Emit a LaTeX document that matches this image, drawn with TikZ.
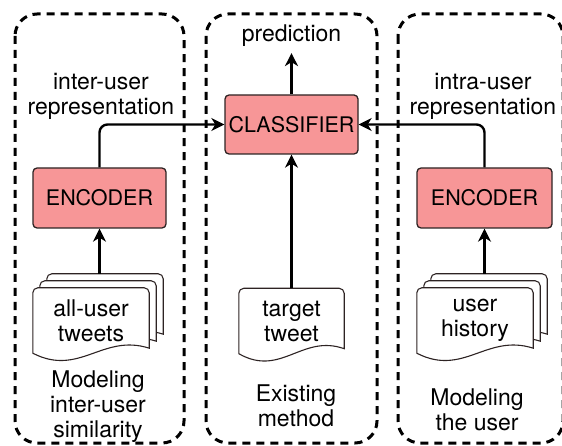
\documentclass[tikz,border=0pt]{standalone}
\usepackage{fontspec}
\setmainfont{TeX Gyre Heros}
\usetikzlibrary{arrows.meta,calc,backgrounds}
\definecolor{boxpink}{RGB}{247,150,151}
\definecolor{boxline}{RGB}{45,35,35}

\tikzset{
	frame/.style={line width=3pt, dash pattern=on 8pt off 6pt, rounded corners=22pt},
	box/.style={draw=boxline, line width=1.3pt, fill=boxpink, rounded corners=4pt, inner sep=0pt},
	sheet/.style={draw=boxline, line width=1.1pt, fill=white},
	docnode/.style={inner sep=0pt, align=center, minimum height=65pt, font=\fontsize{23}{25}\selectfont},
	txt/.style={align=center, inner sep=1pt, font=\fontsize{23}{25}\selectfont},
	arr/.style={line width=2.4pt, -{Stealth[length=13pt,width=13pt,inset=4pt]}}
}

% Blatt mit welliger Unterkante: Knoten, Versatz x, Versatz y
\newcommand{\docsheet}[3]{%
	\filldraw[sheet] ($(#1.south west)+(#2,#3)$)
		[rounded corners=5pt] -- ($(#1.north west)+(#2,#3)$)
		-- ($(#1.north east)+(#2,#3)$)
		[sharp corners] -- ($(#1.south east)+(#2,{#3-5})$)
		.. controls ($(#1.south west)!0.6!(#1.south east)+(#2,{#3-20})$)
		and ($(#1.south west)!0.4!(#1.south east)+(#2,{#3+24})$)
		.. ($(#1.south west)+(#2,#3)$) -- cycle;}

\begin{document}
\begin{tikzpicture}[x=1pt, y=-1pt, font=\fontsize{21.5}{25}\selectfont]
	\useasboundingbox (0,0) rectangle (562,446);

	% Gestrichelte Rahmen
	\draw[frame] (15,14) rectangle (184,443);
	\draw[frame] (206,14) rectangle (377,443);
	\draw[frame] (398,14) rectangle (563,443);

	% Kodierer und Klassifikator
	\node[box, minimum width=133pt, minimum height=59pt] (cls) at (291.5,124.5) {CLASSIFIER};
	\node[box, minimum width=133pt, minimum height=60pt] (encA) at (99.5,198) {ENCODER};
	\node[box, minimum width=135pt, minimum height=60pt] (encB) at (484.5,198) {ENCODER};

	% Dokumente
	\node[docnode, minimum width=116pt] (allTw) at (91,320.5) {all-user\\tweets};
	\node[docnode, minimum width=105pt] (tgtTw) at (291.5,321) {target\\tweet};
	\node[docnode, minimum width=116pt] (userHist) at (475,320.5) {user\\history};
	\begin{scope}[on background layer]
		\docsheet{allTw}{14}{-14}
		\docsheet{allTw}{7}{-7}
		\docsheet{allTw}{0}{0}
		\docsheet{tgtTw}{0}{0}
		\docsheet{userHist}{14}{-14}
		\docsheet{userHist}{7}{-7}
		\docsheet{userHist}{0}{0}
	\end{scope}
	\coordinate (allTop) at (99.5,274);
	\coordinate (histTop) at (484.5,274);

	% Beschriftungen
	\node[txt] (pred) at (291.5,36) {prediction};
	\node[txt] (interRep) at (101,96) {inter-user\\representation};
	\node[txt] (intraRep) at (483,96) {intra-user\\representation};
	\node[txt] (simLbl) at (98,407) {Modeling\\inter-user\\similarity};
	\node[txt] (exLbl) at (296,406) {Existing\\method};
	\node[txt] (userLbl) at (477,410) {Modeling\\the user};

	% Pfeile
	\draw[arr, shorten >=5pt] (cls.north) -- (cls.north |- pred.south);
	\draw[arr, rounded corners=8pt] (encA.north) |- (cls.west);
	\draw[arr, rounded corners=8pt] (encB.north) |- (cls.east);
	\draw[arr] (tgtTw.north) -- (cls.south);
	\draw[arr] (allTop) -- (encA.south);
	\draw[arr] (histTop) -- (encB.south);
\end{tikzpicture}
\end{document}
